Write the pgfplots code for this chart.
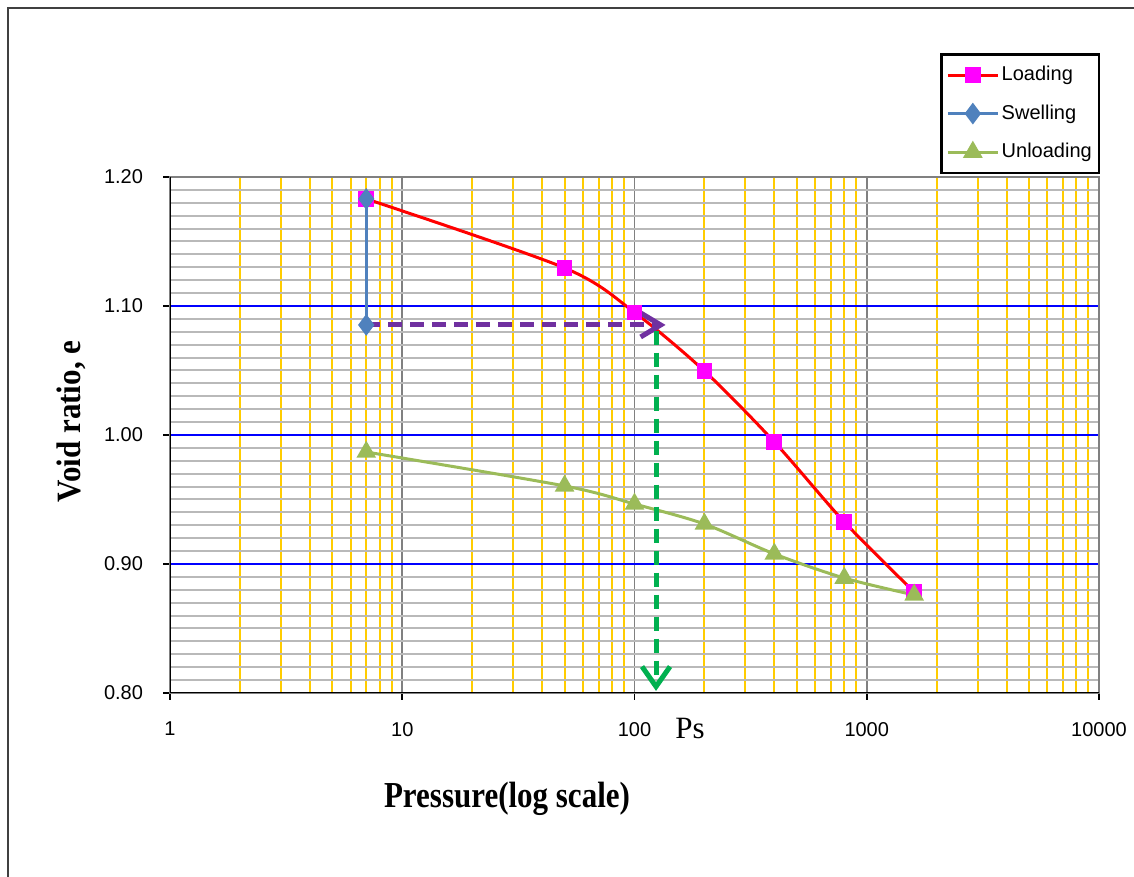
\documentclass[border=0pt]{standalone}
\usepackage{pgfplots}
\pgfplotsset{compat=1.18}
\usepackage{fontspec}
\setmainfont{Liberation Serif}
\newfontfamily\arial{Liberation Sans}
\usetikzlibrary{arrows.meta}
\definecolor{loadred}{RGB}{255,0,0}
\definecolor{loadmag}{RGB}{255,0,255}
\definecolor{swblue}{RGB}{79,129,189}
\definecolor{unlgreen}{RGB}{155,187,89}
\definecolor{arrpurple}{RGB}{112,48,160}
\definecolor{arrgreen}{RGB}{0,176,80}
\definecolor{gridgold}{RGB}{255,204,0}
\definecolor{gridgray}{RGB}{185,185,185}
\definecolor{majgray}{RGB}{128,128,128}
\definecolor{gridblue}{RGB}{0,0,255}
\begin{document}
\begin{tikzpicture}
\path[use as bounding box] (0,0) rectangle (567pt,438.5pt);
\draw[black!75, line width=1pt] (4pt,-2pt) -- (4pt,434.5pt) -- (570pt,434.5pt);
\begin{axis}[
  at={(85pt,92pt)}, anchor=south west,
  scale only axis, width=464.5pt, height=258pt,
  xmode=log, xmin=1, xmax=10000, ymin=0.8, ymax=1.2,
  xtick={1,10,100,1000,10000}, xticklabels={1,10,100,1000,10000},
  minor xtick={2,3,4,5,6,7,8,9,20,30,40,50,60,70,80,90,200,300,400,500,600,700,800,900,2000,3000,4000,5000,6000,7000,8000,9000},
  ytick={0.8,0.9,1.0,1.1,1.2},
  minor y tick num=9,
  /pgf/number format/fixed, /pgf/number format/fixed zerofill, /pgf/number format/precision=2,
  /pgf/number format/assume math mode=true,
  ticklabel style={font=\arial\fontsize{10}{12}\selectfont, text=black},
  xticklabel style={yshift=-7.5pt},
  yticklabel style={xshift=-6.5pt},
  tick align=outside, xtick pos=bottom, ytick pos=left,
  major tick length=3.5pt, minor tick length=0pt,
  tick style={black, line width=0.8pt},
  grid=both,
  minor x grid style={gridgold, line width=1pt},
  major x grid style={majgray, line width=0.8pt},
  minor y grid style={gridgray, line width=1pt},
  major y grid style={gridblue, line width=1pt},
  axis line style={majgray, line width=1pt},
  legend style={at={(0.829,1.240)}, anchor=north west, draw=black, line width=1.2pt,
    font=\arial\fontsize{10}{12}\selectfont, inner xsep=2.5pt, inner ysep=4pt, row sep=6.5pt,
    nodes={inner xsep=1.2pt}},
  legend cell align=left,
  legend image code/.code={\draw[mark repeat=2,mark phase=2] plot coordinates {(0pt,0pt) (12.5pt,0pt) (25pt,0pt)};},
]
\addplot[loadred, line width=1.5pt, smooth, tension=0.5, mark=square*, mark size=3.2pt,
  mark options={fill=loadmag, draw=loadmag, solid}]
  coordinates {(7,1.183) (50,1.1295) (100,1.095) (200,1.0496) (400,0.9946) (800,0.9326) (1600,0.8783)};
\addlegendentry{Loading}
\addplot[swblue, line width=1.5pt, mark=diamond*, mark size=4.2pt, mark options={fill=swblue, draw=swblue, solid}]
  coordinates {(7,1.183) (7,1.0853)};
\addlegendentry{Swelling}
\addplot[unlgreen, line width=1.5pt, smooth, tension=0.5, mark=triangle*, mark size=4.2pt,
  mark options={fill=unlgreen, draw=unlgreen, solid}]
  coordinates {(7,0.9868) (50,0.9605) (100,0.9465) (200,0.931) (400,0.9078) (800,0.8891) (1600,0.876)};
\addlegendentry{Unloading}
\addplot[arrpurple, line width=2.5pt, dash pattern=on 7pt off 4pt, forget plot,
  -{Straight Barb[length=10pt,width=12pt]}]
  coordinates {(7,1.0853) (136,1.0853)};
\addplot[arrgreen, line width=2.5pt, dash pattern=on 7pt off 4pt, forget plot,
  -{Straight Barb[length=10pt,width=14pt]}]
  coordinates {(123.8,1.081) (123.8,0.8016)};
\draw[black, line width=1pt] (rel axis cs:0,1) -- (rel axis cs:0,0) -- (rel axis cs:1,0);
\end{axis}
\node[anchor=base, font=\fontsize{15.5}{18}\selectfont] at (345pt,69pt) {Ps};
\node[anchor=base, font=\bfseries\fontsize{15.5}{18}\selectfont] at (253.5pt,34.5pt) {\scalebox{1}[1.18]{Pressure(log scale)}};
\node[anchor=base, rotate=90, font=\bfseries\fontsize{15.5}{18}\selectfont] at (40pt,227.75pt) {\scalebox{1}[1.1]{Void ratio, e}};
\end{tikzpicture}
\end{document}
